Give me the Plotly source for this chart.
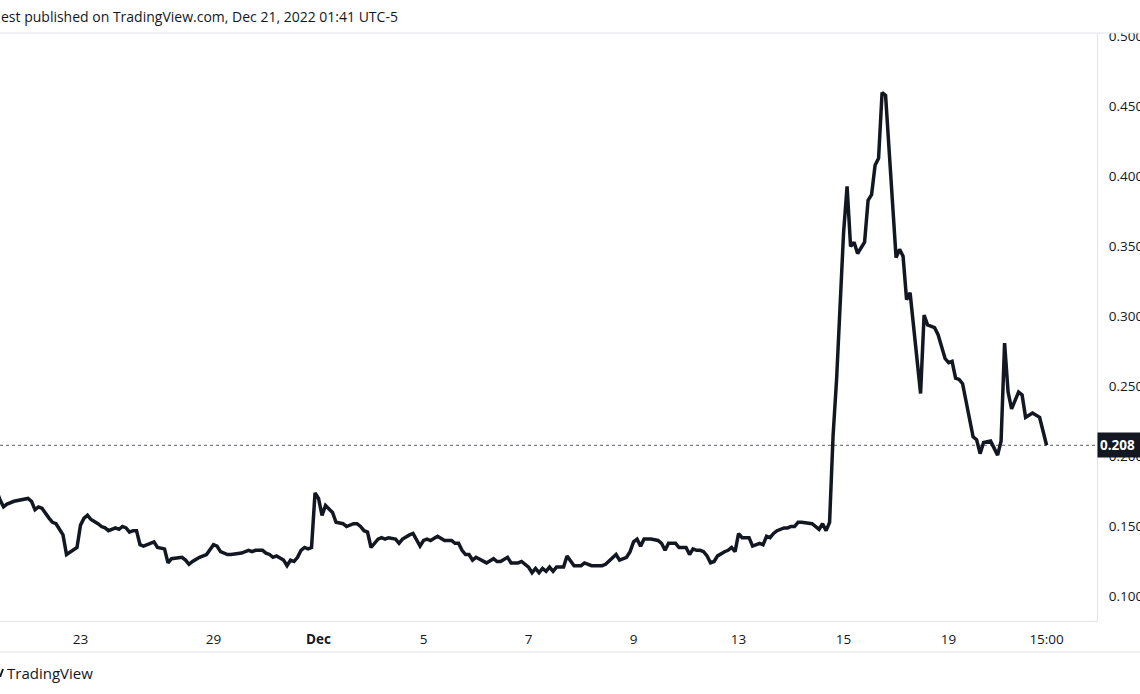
import plotly.graph_objects as go

# ---- data (bar index on TradingView's compressed time scale, close price) ----
bars = [-1, 0, 1, 2, 4, 8, 9, 10, 11, 12, 14, 15, 16, 17, 18, 19, 21, 22, 23, 24,
        25, 26, 28, 29, 30, 31, 33, 34, 35, 36, 37, 38, 39, 40, 41, 43, 44, 45, 47, 48,
        49, 52, 53, 54, 55, 57, 59, 61, 62, 63, 65, 66, 68, 69, 71, 72, 73, 75, 76, 77,
        78, 79, 81, 82, 83, 84, 85, 86, 87, 88, 89, 90, 91, 92, 93, 95, 96, 98, 99, 101,
        102, 103, 104, 105, 106, 107, 108, 109, 110, 111, 113, 114, 115, 117, 118, 120, 121, 122, 123, 125,
        127, 128, 129, 130, 131, 132, 133, 134, 135, 136, 138, 139, 141, 142, 143, 145, 146, 148, 149, 151,
        152, 153, 154, 155, 156, 157, 158, 159, 161, 162, 164, 165, 166, 167, 169, 171, 172, 173, 175, 176,
        177, 179, 180, 181, 182, 183, 184, 186, 188, 189, 190, 191, 193, 194, 196, 197, 198, 199, 200, 201,
        202, 203, 204, 205, 207, 208, 209, 210, 211, 212, 213, 214, 215, 217, 218, 219, 220, 221, 222, 224,
        225, 226, 227, 228, 229, 231, 232, 234, 235, 236, 237, 238, 239, 241, 242, 243, 244, 245, 247, 248,
        249, 250, 251, 252, 253, 256, 257, 258, 259, 260, 263, 264, 265, 267, 268, 270, 271, 272, 273, 274,
        275, 278, 279, 280, 281, 283, 285, 286, 287, 288, 289, 291, 292, 293, 295, 297, 299]

prices = [0.176, 0.169, 0.164, 0.166, 0.168, 0.170, 0.168, 0.162, 0.164, 0.163, 0.156, 0.153, 0.152, 0.148, 0.144, 0.130, 0.133, 0.135, 0.151, 0.156,
          0.158, 0.155, 0.152, 0.150, 0.149, 0.147, 0.149, 0.148, 0.150, 0.149, 0.146, 0.147, 0.147, 0.137, 0.136, 0.138, 0.139, 0.135, 0.134, 0.124,
          0.127, 0.128, 0.126, 0.123, 0.125, 0.128, 0.130, 0.137, 0.136, 0.132, 0.130, 0.130, 0.131, 0.131, 0.133, 0.132, 0.133, 0.133, 0.131, 0.130,
          0.128, 0.129, 0.126, 0.122, 0.126, 0.125, 0.128, 0.133, 0.135, 0.134, 0.135, 0.174, 0.170, 0.158, 0.165, 0.160, 0.153, 0.152, 0.150, 0.152,
          0.152, 0.150, 0.147, 0.146, 0.135, 0.138, 0.141, 0.142, 0.141, 0.142, 0.141, 0.138, 0.141, 0.144, 0.145, 0.136, 0.140, 0.141, 0.140, 0.143,
          0.140, 0.140, 0.140, 0.138, 0.138, 0.133, 0.130, 0.130, 0.126, 0.128, 0.125, 0.124, 0.127, 0.125, 0.125, 0.128, 0.124, 0.124, 0.125, 0.121,
          0.117, 0.120, 0.117, 0.120, 0.118, 0.121, 0.118, 0.121, 0.121, 0.129, 0.122, 0.122, 0.122, 0.124, 0.122, 0.122, 0.122, 0.123, 0.128, 0.130,
          0.126, 0.128, 0.132, 0.139, 0.141, 0.136, 0.141, 0.141, 0.140, 0.138, 0.133, 0.138, 0.138, 0.135, 0.135, 0.130, 0.134, 0.133, 0.133, 0.132,
          0.129, 0.124, 0.125, 0.129, 0.132, 0.133, 0.135, 0.132, 0.145, 0.142, 0.142, 0.142, 0.136, 0.138, 0.137, 0.143, 0.142, 0.145, 0.147, 0.149,
          0.149, 0.150, 0.150, 0.153, 0.153, 0.152, 0.152, 0.148, 0.152, 0.147, 0.153, 0.215, 0.255, 0.360, 0.393, 0.350, 0.353, 0.345, 0.353, 0.383,
          0.387, 0.408, 0.413, 0.460, 0.458, 0.342, 0.348, 0.343, 0.312, 0.317, 0.245, 0.301, 0.294, 0.292, 0.287, 0.270, 0.267, 0.268, 0.256, 0.255,
          0.252, 0.214, 0.212, 0.202, 0.210, 0.211, 0.201, 0.211, 0.281, 0.246, 0.234, 0.246, 0.244, 0.228, 0.231, 0.228, 0.208]

assert len(bars) == len(prices), (len(bars), len(prices))

tick_bars = [23, 61, 91, 121, 151, 181, 211, 241, 271, 299]
tick_labels = ["23", "29", "<b>Dec</b>", "5", "7", "9", "13", "15", "19", "15:00"]
price_ticks = [0.10, 0.15, 0.20, 0.25, 0.30, 0.35, 0.40, 0.45, 0.50]
last_price = prices[-1]
header_text = "est published on TradingView.com, Dec 21, 2022 01:41 UTC-5"

FONT = "Open Sans"
TXT = "#131722"
BORDER = "#e0e3eb"

W, H = 1140, 694
ML, MR, MT, MB = 0, 43, 33, 73
PW, PH = W - ML - MR, H - MT - MB

fig = go.Figure(go.Scatter(
    x=bars, y=prices, mode="lines",
    line=dict(color=TXT, width=3.5), hoverinfo="skip", showlegend=False,
))

fig.update_layout(
    width=W, height=H,
    margin=dict(l=ML, r=MR, t=MT, b=MB, autoexpand=False),
    paper_bgcolor="white", plot_bgcolor="white",
    font=dict(family=FONT, size=13, color=TXT),
    xaxis=dict(
        range=[0, 313.4], tickmode="array", tickvals=tick_bars, ticktext=tick_labels,
        showgrid=False, zeroline=False, showline=True, linecolor=BORDER, linewidth=1,
        ticks="outside", ticklen=0, tickcolor="white", ticklabelstandoff=6,
        tickfont=dict(family=FONT, size=13.5, color=TXT), automargin=False,
    ),
    yaxis=dict(
        side="right", range=[0.0825, 0.5025], tickmode="array", tickvals=price_ticks,
        tickformat=".3f", showgrid=False, zeroline=False, showline=True,
        linecolor=BORDER, linewidth=1, ticks="outside", ticklen=0, tickcolor="white",
        ticklabelstandoff=8, tickfont=dict(family=FONT, size=13.5, color=TXT),
        automargin=False,
    ),
)

xr = W / PW  # paper x reaching the right page edge
fig.add_shape(type="rect", xref="paper", yref="paper", x0=-0.01, x1=xr + 0.01,
              y0=1, y1=1 + MT / PH + 0.01, fillcolor="white", line_width=0, layer="above")
fig.add_shape(type="line", xref="paper", yref="paper", x0=0, x1=xr, y0=1, y1=1,
              line=dict(color=BORDER, width=1), layer="above")
fig.add_shape(type="line", xref="paper", yref="paper", x0=0, x1=xr,
              y0=-31 / PH, y1=-31 / PH, line=dict(color=BORDER, width=1), layer="above")
fig.add_shape(type="line", xref="paper", yref="y", x0=0, x1=1, y0=last_price, y1=last_price,
              line=dict(color="#5d606b", width=1, dash="dot"), layer="below")
fig.add_shape(type="line", xref="paper", yref="paper", x0=0, x1=3 / PW,
              y0=-56 / PH, y1=-48 / PH, line=dict(color=TXT, width=2), layer="above")

fig.add_annotation(text=header_text, xref="paper", yref="paper", x=0, y=1,
                   xanchor="left", yanchor="middle", xshift=-1, yshift=17, showarrow=False,
                   font=dict(family=FONT, size=14, color=TXT))
fig.add_annotation(text="TradingView", xref="paper", yref="paper", x=0, y=0,
                   xanchor="left", yanchor="middle", xshift=5, yshift=-52, showarrow=False,
                   font=dict(family=FONT, size=15, color=TXT))
fig.add_annotation(text=f"<b>{last_price:.3f}</b>", xref="paper", yref="y", x=1, y=last_price,
                   xanchor="left", yanchor="middle", showarrow=False, align="left",
                   bgcolor=TXT, width=46, height=20, borderpad=2,
                   font=dict(family=FONT, size=13.5, color="white"))

fig.write_html("out.html")
